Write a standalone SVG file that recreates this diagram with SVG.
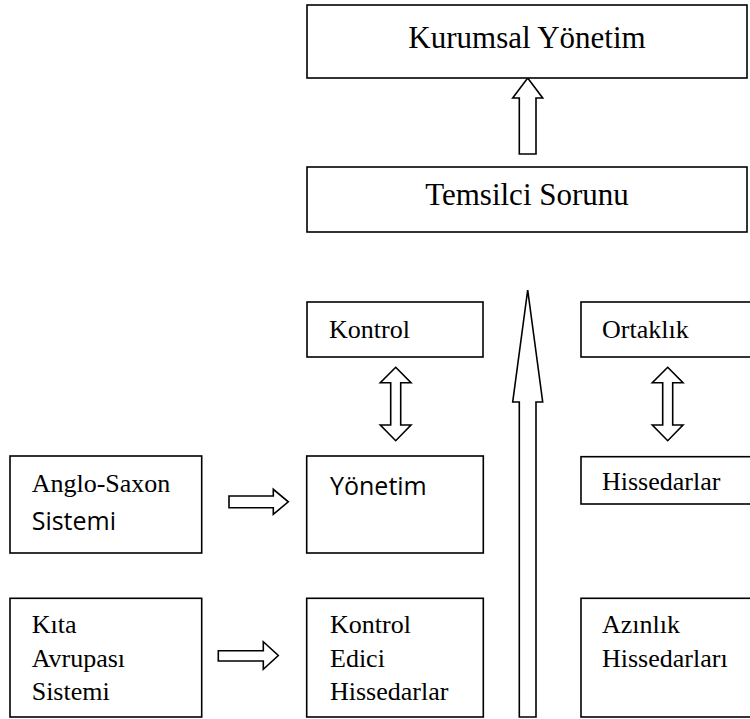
<svg xmlns="http://www.w3.org/2000/svg" width="750" height="719" viewBox="0 0 750 719">
<style>
.box{fill:#fff;stroke:#000;stroke-width:1.6}
.arr{fill:#fff;stroke:#000;stroke-width:1.6;stroke-linejoin:miter}
.t{font-family:"Liberation Serif","Times New Roman",serif;fill:#000}
.big{font-size:31px;text-anchor:middle}
.sm{font-size:26px}
.sans{font-family:"Open Sans","Liberation Sans",sans-serif;font-size:25px;fill:#000}
</style>
<rect width="750" height="719" fill="#fff"/>
<g id="connectors">
<polygon class="arr" points="527.7,78 542.7,98 536,98 536,154 519.3,154 519.3,98 512.7,98"/>
<polygon class="arr" points="527.7,290 542.7,402 536,402 536,717 519.3,717 519.3,402 512.7,402"/>
<polygon class="arr" points="395.7,367.3 411,382.7 400.7,382.7 400.7,425 411,425 395.7,440.7 380.3,425 390.7,425 390.7,382.7 380.3,382.7"/>
<polygon class="arr" points="667.7,367.3 683,382.7 672.7,382.7 672.7,425 683,425 667.7,440.7 652.3,425 662.7,425 662.7,382.7 652.3,382.7"/>
<polygon class="arr" points="229,496 273.3,496 273.3,489.3 288.3,501.8 273.3,514.3 273.3,507.7 229,507.7"/>
<polygon class="arr" points="218.3,650.7 263.3,650.7 263.3,641.7 278.3,655.5 263.3,669.3 263.3,661 218.3,661"/>
</g>
<g id="kurumsal">
<rect class="box" x="307" y="5" width="440" height="73"/>
<text class="t big" x="527" y="48">Kurumsal Yönetim</text>
</g>
<g id="temsilci">
<rect class="box" x="307" y="167" width="440" height="65"/>
<text class="t big" x="527" y="205">Temsilci Sorunu</text>
</g>
<g id="kontrol">
<rect class="box" x="307" y="302" width="176" height="55"/>
<text class="t sm" x="329" y="338">Kontrol</text>
</g>
<g id="ortaklik">
<rect class="box" x="581" y="302" width="180" height="55"/>
<text class="t sm" x="602" y="338">Ortaklık</text>
</g>
<g id="anglo">
<rect class="box" x="10" y="456" width="191.7" height="97"/>
<text class="t sm" x="31.7" y="492">Anglo-Saxon</text>
<text class="sans" x="31.7" y="530">Sistemi</text>
</g>
<g id="yonetim">
<rect class="box" x="306.7" y="456" width="176.6" height="97"/>
<text class="sans" x="330" y="495">Yönetim</text>
</g>
<g id="hissedarlar">
<rect class="box" x="581" y="456.7" width="180" height="47.3"/>
<text class="t sm" x="602" y="490">Hissedarlar</text>
</g>
<g id="kita">
<rect class="box" x="10" y="598.3" width="191.7" height="118.7"/>
<text class="t sm" x="31.7" y="633">Kıta</text>
<text class="t sm" x="31.7" y="667">Avrupası</text>
<text class="t sm" x="31.7" y="700">Sistemi</text>
</g>
<g id="kontrol-edici">
<rect class="box" x="306.7" y="598.3" width="176.6" height="118.7"/>
<text class="t sm" x="330" y="633">Kontrol</text>
<text class="t sm" x="330" y="667">Edici</text>
<text class="t sm" x="330" y="700">Hissedarlar</text>
</g>
<g id="azinlik">
<rect class="box" x="581" y="598.3" width="180" height="118.7"/>
<text class="t sm" x="602" y="633">Azınlık</text>
<text class="t sm" x="602" y="667">Hissedarları</text>
</g>
</svg>
